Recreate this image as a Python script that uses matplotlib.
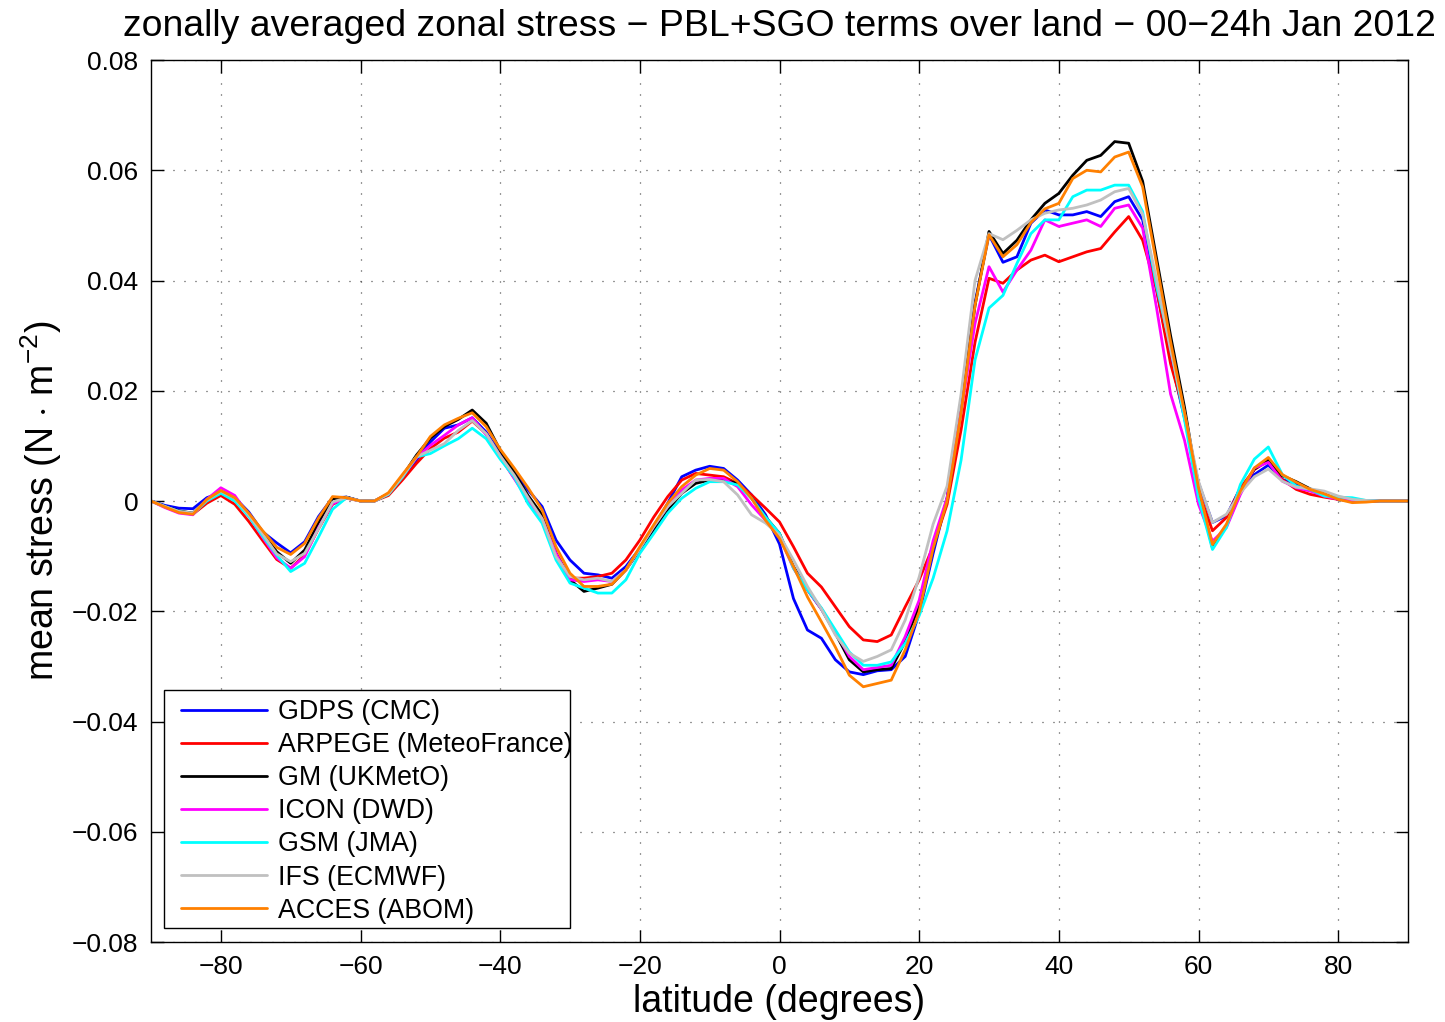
import numpy as np
import matplotlib
matplotlib.use("Agg")
import matplotlib.pyplot as plt
from matplotlib.ticker import FixedLocator, FixedFormatter
from matplotlib.patches import Rectangle

plt.rcParams['font.family'] = ['Liberation Sans', 'DejaVu Sans']
plt.rcParams['mathtext.fontset'] = 'custom'
plt.rcParams['mathtext.rm'] = 'Liberation Sans'
plt.rcParams['mathtext.it'] = 'Liberation Sans'

# ---------------- data (stress in 1e-3 N m^-2) ----------------
latitude = list(range(-90, 91, 2))

gdps_cmc = [0, -0.8, -1.3, -1.4, 0.6, 1.5, 0.6, -2.0, -5.6, -7.6, -9.4, -7.4, -2.8, 0.6, 0.7, 0, 0, 1.3, 4.4, 7.4,
            10.7, 13.2, 13.8, 15.1, 12.5, 8.6, 5.5, 2.0, -1.0, -7.1, -10.7, -13.1, -13.4, -14.0, -11.9, -8.6, -4.6, -0.4, 4.4, 5.6,
            6.3, 5.9, 3.8, 1.1, -2.5, -7.8, -17.7, -23.4, -24.9, -28.8, -31.0, -31.5, -30.8, -30.6, -28.2, -20.4, -9.5, 0.6, 17.7, 36.0,
            48.3, 43.3, 44.3, 50.4, 52.8, 51.9, 51.9, 52.5, 51.6, 54.3, 55.2, 51.0, 38.3, 25.9, 15.0, 3.3, -3.9, -2.7, 2.4, 4.8,
            6.5, 3.9, 3.0, 2.1, 1.2, 0.3, 0.1, 0, 0, 0, 0]
arpege_mf = [0, -1.0, -2.0, -2.4, -0.4, 1.0, -0.6, -3.7, -7.2, -10.6, -12.2, -9.8, -5.0, -0.6, 0.5, 0, 0, 1.0, 3.8, 6.8,
             9.5, 11.4, 12.5, 14.5, 12.2, 8.0, 4.2, 0.5, -3.0, -9.5, -14.0, -14.0, -13.7, -13.1, -10.7, -7.1, -2.9, 0.8, 3.8, 5.0,
             4.7, 4.4, 3.2, 1.1, -1.3, -3.8, -8.3, -13.1, -15.6, -19.2, -22.8, -25.2, -25.5, -24.3, -19.2, -14.3, -8.2, -0.6, 12.9, 28.8,
             40.4, 39.5, 41.9, 43.7, 44.6, 43.4, 44.3, 45.2, 45.8, 48.8, 51.6, 47.3, 38.3, 24.9, 15.9, 1.8, -5.4, -3.0, 2.4, 5.7,
             7.3, 3.9, 2.1, 1.2, 0.7, 0.3, 0.1, 0, 0, 0, 0]
gm_ukmo = [0, -1.0, -1.8, -2.2, 0.2, 1.5, 0.4, -2.4, -5.8, -9.2, -11.3, -8.9, -3.9, 0.4, 0.7, 0, 0, 1.3, 4.5, 8.3,
           11.4, 13.5, 14.8, 16.5, 14.1, 9.2, 5.2, 1.0, -2.5, -9.5, -14.3, -16.4, -15.8, -15.1, -12.5, -8.9, -5.2, -1.6, 1.4, 3.2,
           3.8, 3.8, 3.2, 0.5, -2.9, -5.9, -11.9, -16.1, -19.6, -24.0, -28.8, -31.0, -30.6, -30.4, -25.5, -19.0, -8.5, 0.3, 16.5, 35.5,
           48.9, 44.9, 47.3, 51.0, 54.0, 55.8, 59.1, 61.8, 62.7, 65.2, 64.9, 58.0, 44.0, 30.0, 17.0, 2.0, -8.5, -4.5, 1.5, 5.8,
           7.5, 4.6, 3.5, 2.2, 1.2, 0.3, 0.0, 0, 0, 0, 0]
icon_dwd = [0, -1.2, -2.2, -2.5, 0.3, 2.4, 1.0, -2.6, -6.6, -10.3, -12.2, -10.1, -4.8, -0.5, 0.6, 0, 0, 1.3, 4.5, 7.8,
            10.1, 11.9, 13.8, 15.1, 12.0, 8.0, 4.1, 0.1, -3.2, -9.5, -14.3, -14.6, -14.3, -14.6, -12.5, -8.6, -4.6, -1.0, 2.0, 3.8,
            4.1, 4.1, 2.6, -0.7, -3.5, -6.5, -12.2, -16.1, -19.6, -23.7, -28.2, -30.6, -30.2, -29.8, -24.6, -18.0, -7.2, 0.6, 16.3, 32.2,
            42.5, 37.9, 41.9, 45.5, 51.0, 49.8, 50.4, 51.0, 49.8, 53.1, 53.7, 49.5, 35.0, 19.4, 11.0, -0.6, -7.3, -4.8, 1.2, 6.0,
            7.0, 3.6, 2.4, 1.8, 0.9, 0.3, 0.1, 0, 0, 0, 0]
gsm_jma = [0, -1.0, -1.9, -2.3, 0.0, 1.4, 0.0, -2.8, -6.4, -9.8, -12.8, -11.3, -6.5, -1.5, 0.6, 0, 0, 1.2, 4.3, 8.0,
           8.6, 10.0, 11.3, 13.2, 11.3, 7.6, 4.4, -0.5, -4.0, -10.7, -14.9, -15.8, -16.7, -16.7, -14.3, -9.5, -5.9, -2.2, 0.5, 2.3,
           3.5, 3.5, 2.9, 0.5, -2.9, -5.9, -12.2, -16.1, -19.4, -23.4, -27.4, -29.8, -29.8, -29.2, -25.8, -20.8, -14.0, -5.4, 7.4, 25.6,
           35.0, 37.3, 43.1, 48.5, 51.0, 51.0, 55.2, 56.4, 56.4, 57.3, 57.3, 52.5, 38.9, 28.0, 14.7, 0.6, -8.8, -4.8, 3.0, 7.6,
           9.8, 4.8, 2.7, 2.1, 0.9, 0.7, 0.6, 0.1, 0, 0, 0]
ifs_ecmwf = [0, -1.0, -1.9, -2.2, 0.2, 1.8, 0.5, -2.5, -6.0, -9.6, -11.0, -9.5, -5.0, -0.2, 0.6, 0, 0, 1.3, 4.5, 8.0,
             9.2, 10.4, 12.8, 14.6, 12.2, 8.2, 4.7, 0.6, -3.2, -10.1, -13.7, -14.3, -14.0, -14.6, -12.5, -8.6, -4.6, -1.0, 1.4, 3.8,
             3.9, 3.5, 1.1, -2.5, -4.0, -6.2, -10.7, -15.5, -19.6, -24.3, -27.6, -29.1, -28.2, -27.0, -21.6, -13.8, -4.2, 2.7, 19.4, 40.0,
             48.5, 47.4, 49.1, 51.0, 52.2, 52.8, 53.1, 53.7, 54.6, 56.1, 56.7, 52.0, 40.1, 27.4, 15.9, 3.6, -3.9, -2.4, 1.5, 4.4,
             5.8, 3.6, 2.5, 2.2, 1.8, 0.9, 0.3, 0.1, 0, 0, 0]
acces_abom = [0, -1.1, -2.1, -2.4, 0.3, 1.9, 0.6, -2.2, -5.4, -8.4, -9.7, -7.7, -3.1, 0.8, 0.6, 0, 0, 1.5, 4.8, 8.0,
              11.7, 13.8, 15.0, 16.0, 13.5, 9.4, 6.0, 2.4, -1.6, -8.3, -13.1, -15.5, -15.5, -15.1, -12.5, -8.3, -4.3, -0.4, 2.6, 4.7,
              5.9, 5.6, 3.5, 0.5, -3.5, -6.8, -11.9, -17.4, -21.9, -26.5, -31.6, -33.7, -33.1, -32.5, -27.0, -20.1, -8.6, 0.0, 15.9, 35.5,
              48.3, 44.3, 46.5, 50.5, 53.0, 54.0, 58.5, 60.0, 59.7, 62.4, 63.3, 57.0, 43.0, 28.9, 16.1, 2.4, -7.9, -4.2, 1.8, 6.0,
              7.9, 4.8, 3.4, 2.1, 1.3, 0.3, -0.3, -0.2, 0, 0, 0]

model_labels = ['GDPS (CMC)', 'ARPEGE (MeteoFrance)', 'GM (UKMetO)', 'ICON (DWD)',
                'GSM (JMA)', 'IFS (ECMWF)', 'ACCES (ABOM)']
series = [gdps_cmc, arpege_mf, gm_ukmo, icon_dwd, gsm_jma, ifs_ecmwf, acces_abom]

xtick_values = [-80, -60, -40, -20, 0, 20, 40, 60, 80]
xtick_labels = ['\u221280', '\u221260', '\u221240', '\u221220', '0', '20', '40', '60', '80']
ytick_values = [-0.08, -0.06, -0.04, -0.02, 0, 0.02, 0.04, 0.06, 0.08]
ytick_labels = ['\u22120.08', '\u22120.06', '\u22120.04', '\u22120.02', '0', '0.02', '0.04', '0.06', '0.08']

colors = ['#0000ff', '#ff0000', '#000000', '#ff00ff', '#00ffff', '#c0c0c0', '#ff8000']

# ---------------- figure ----------------
W, H = 1445, 1022
fig = plt.figure(figsize=(W / 100, H / 100), dpi=100)
ax = fig.add_axes([151/W, 1 - 942/H, (1408-151)/W, (942-60)/H])

lat = np.array(latitude, dtype=float)
for vals, lab, col in zip(series, model_labels, colors):
    ax.plot(lat, np.array(vals) * 1e-3, color=col, lw=2.0, label=lab,
            solid_joinstyle='round', solid_capstyle='round')

ax.set_xlim(-90, 90)
ax.set_ylim(-0.08, 0.08)
ax.xaxis.set_major_locator(FixedLocator(xtick_values))
ax.xaxis.set_major_formatter(FixedFormatter(xtick_labels))
ax.yaxis.set_major_locator(FixedLocator(ytick_values))
ax.yaxis.set_major_formatter(FixedFormatter(ytick_labels))

ax.tick_params(direction='in', length=9, width=1.0, top=True, right=True,
               labelsize=19, pad=9)
for s in ax.spines.values():
    s.set_linewidth(1.0)
ax.grid(True, linestyle=(0, (0.8, 8.0)), color='#333333', linewidth=0.9)

ax.set_title('zonally averaged zonal stress \u2212 PBL+SGO terms over land \u2212 00\u221224h Jan 2012',
             fontsize=26.9, pad=17)
ax.set_xlabel('latitude (degrees)', fontsize=27, labelpad=4)
ax.set_ylabel('mean stress (N $\\cdot$ m$^{\\mathregular{\u22122}}$)', fontsize=27, labelpad=6)

# legend frame (MATLAB-style box, text slightly overflowing on the right)
frame = Rectangle((164 / W, 1 - 928 / H), (570 - 164) / W, (928 - 690) / H,
                  transform=fig.transFigure, facecolor='white', edgecolor='black',
                  linewidth=1.0, zorder=4.5, clip_on=False)
ax.add_patch(frame)

leg = ax.legend(loc='upper left', bbox_to_anchor=(181 / W, 1 - 699 / H),
                bbox_transform=fig.transFigure, borderaxespad=0, borderpad=0,
                fontsize=19.3, frameon=False,
                handlelength=3.2, handletextpad=0.4, labelspacing=0.265)
leg.set_zorder(6)

fig.savefig('out.png', dpi=100)
